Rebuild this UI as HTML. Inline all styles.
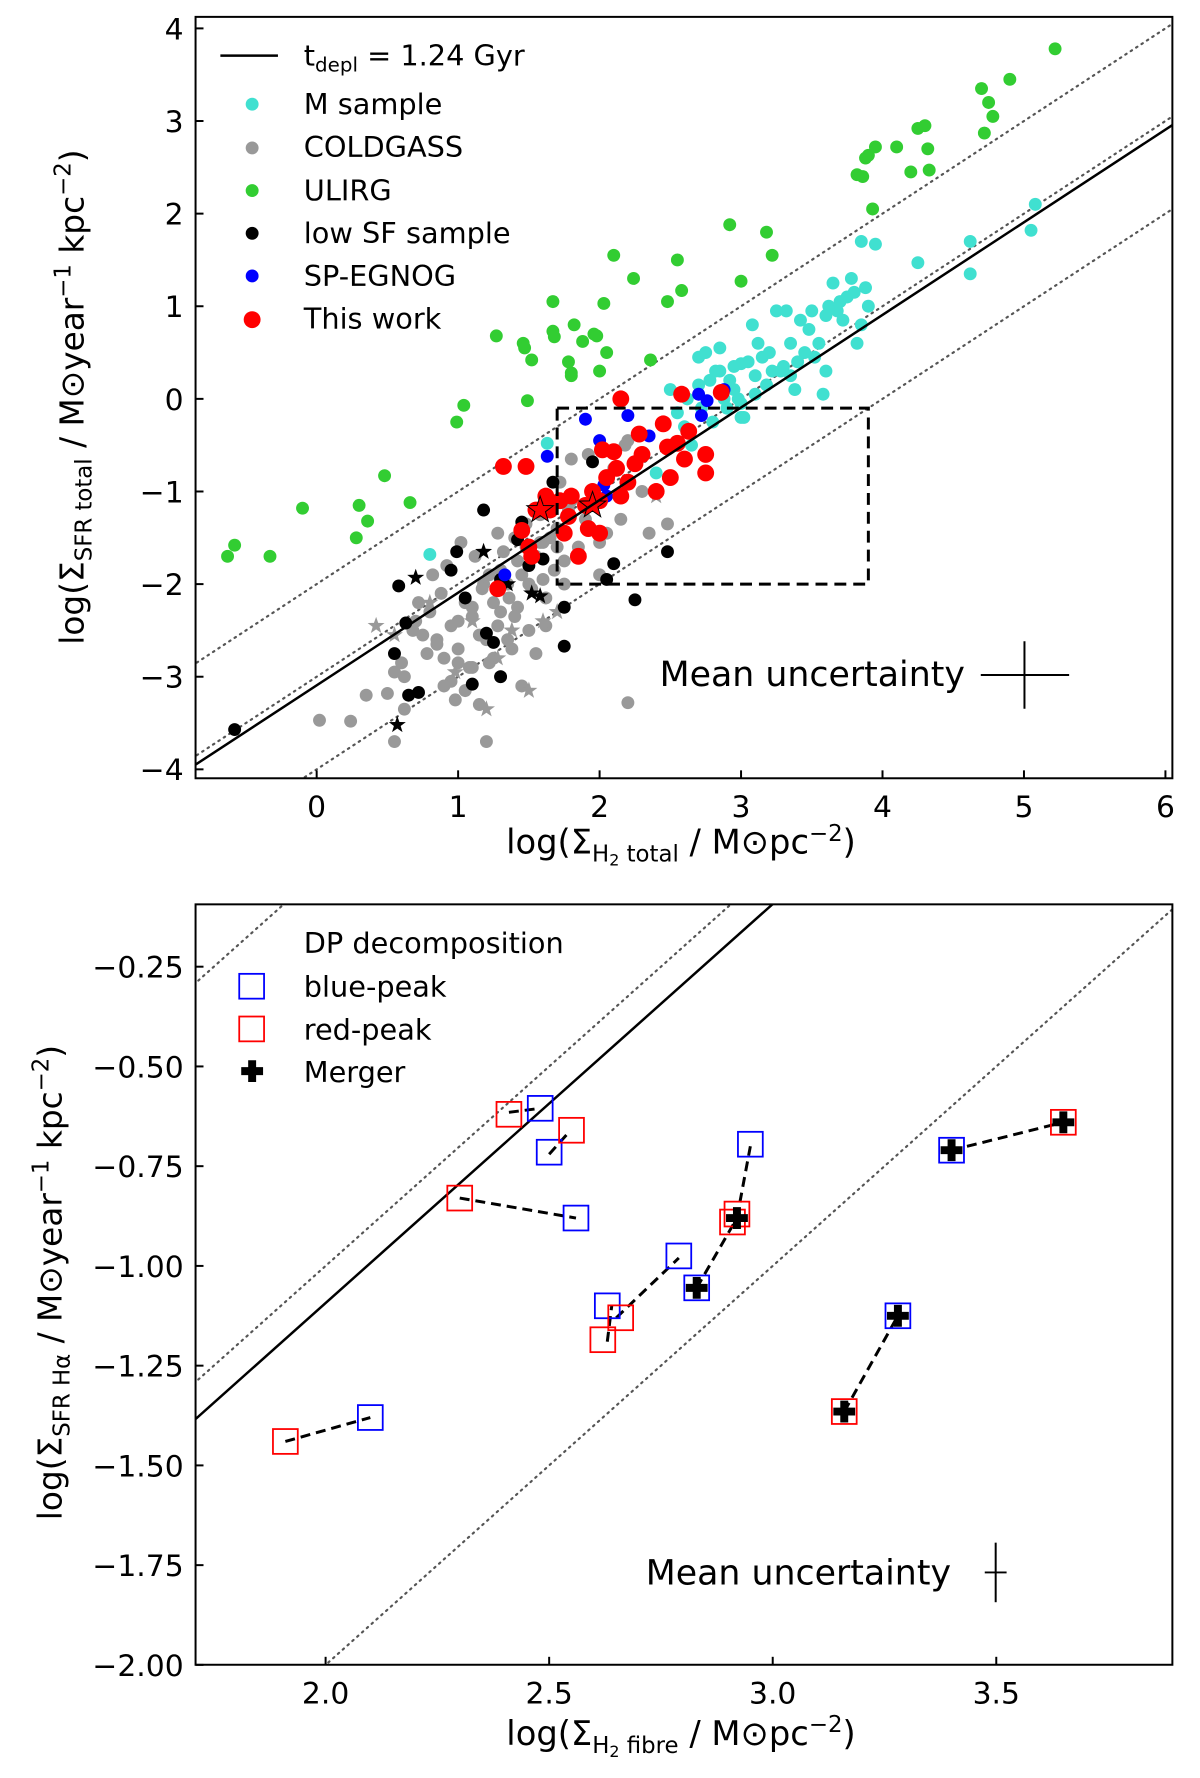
<!DOCTYPE html>
<html><head><meta charset="utf-8">
<style>
html,body{margin:0;padding:0;background:#fff;overflow:hidden;}
svg{display:block;font-family:"DejaVu Sans","Liberation Sans",sans-serif;}
</style></head>
<body>
<svg id="fig" width="1200" height="1778" viewBox="0 0 1200 1778" xmlns="http://www.w3.org/2000/svg">
<rect width="1200" height="1778" fill="#fff"/>
<defs><clipPath id="ct"><rect x="197" y="17" width="984" height="767"/></clipPath><clipPath id="cb"><rect x="197" y="911" width="984" height="766"/></clipPath></defs>
<g transform="scale(0.9927)">
<g id="topPanel">
<text x="686" y="860" font-size="34" text-anchor="middle">log(Σ<tspan font-size="23" dy="8">H</tspan><tspan font-size="16" dy="4">2</tspan><tspan font-size="23" dy="-4"> total</tspan><tspan dy="-8"> / M⊙pc</tspan><tspan font-size="23" dy="-13">−2</tspan><tspan dy="13">)</tspan></text>
<text transform="translate(84,400) rotate(-90)" font-size="33" text-anchor="middle">log(Σ<tspan font-size="23" dy="8">SFR total</tspan><tspan dy="-8"> / M⊙year</tspan><tspan font-size="23" dy="-13">−1</tspan><tspan dy="13"> kpc</tspan><tspan font-size="23" dy="-13">−2</tspan><tspan dy="13">)</tspan></text>
<g font-size="29">
<line x1="222" y1="56" x2="280" y2="56" stroke="#000" stroke-width="2.5"/>
<text x="306" y="66">t<tspan font-size="20" dy="6">depl</tspan><tspan dy="-6"> = 1.24 Gyr</tspan></text>
<circle cx="254" cy="105" r="6.5" fill="#40e0d0"/><text x="306" y="115">M sample</text>
<circle cx="254" cy="149" r="6.5" fill="#999"/><text x="306" y="158">COLDGASS</text>
<circle cx="254" cy="192" r="6.5" fill="#32cd32"/><text x="306" y="202">ULIRG</text>
<circle cx="254" cy="235" r="6.5" fill="#000"/><text x="306" y="245">low SF sample</text>
<circle cx="254" cy="278" r="6.5" fill="#0000ff"/><text x="306" y="288">SP-EGNOG</text>
<circle cx="254" cy="322" r="8.5" fill="#ff0000"/><text x="306" y="331">This work</text>
</g>
<g>
<text x="972" y="691" font-size="35" text-anchor="end">Mean uncertainty</text>
<line x1="988" y1="680" x2="1077" y2="680" stroke="#000" stroke-width="2"/>
<line x1="1032" y1="646" x2="1032" y2="714" stroke="#000" stroke-width="2"/>
</g>
</g>
<g id="botPanel">
<text x="686" y="1758" font-size="34" text-anchor="middle">log(Σ<tspan font-size="23" dy="8">H</tspan><tspan font-size="16" dy="4">2</tspan><tspan font-size="23" dy="-4"> fibre</tspan><tspan dy="-8"> / M⊙pc</tspan><tspan font-size="23" dy="-13">−2</tspan><tspan dy="13">)</tspan></text>
<text transform="translate(62,1292) rotate(-90)" font-size="33" text-anchor="middle">log(Σ<tspan font-size="23" dy="8">SFR Hα</tspan><tspan dy="-8"> / M⊙year</tspan><tspan font-size="23" dy="-13">−1</tspan><tspan dy="13"> kpc</tspan><tspan font-size="23" dy="-13">−2</tspan><tspan dy="13">)</tspan></text>
<g font-size="29">
<text x="306" y="960">DP decomposition</text>
<rect x="241" y="981" width="25" height="25" fill="none" stroke="#0000ff" stroke-width="1.8"/><text x="306" y="1004">blue-peak</text>
<rect x="241" y="1024" width="25" height="25" fill="none" stroke="#ff0000" stroke-width="1.8"/><text x="306" y="1047">red-peak</text>
<path d="M250,1068h8v7h7v8h-7v7h-8v-7h-7v-8h7z" fill="#000"/><text x="306" y="1090">Merger</text>
</g>
<g>
<text x="958" y="1596" font-size="35" text-anchor="end">Mean uncertainty</text>
<line x1="992" y1="1584" x2="1014" y2="1584" stroke="#000" stroke-width="2"/>
<line x1="1003" y1="1554" x2="1003" y2="1614" stroke="#000" stroke-width="2"/>
</g>
</g>
</g>
</svg>
<script>
// ---------- TOP PANEL DATA ----------
const ulirgX=[-0.63,-0.58,-0.33,-0.1,0.28,0.3,0.36,0.48,0.66,0.99,1.04,1.27,1.46,1.47,1.52,1.49,1.67,1.67,1.68,1.78,1.8,1.8,1.82,1.88,1.96,1.98,2.0,2.03,2.05,2.1,2.24,2.36,2.48,2.55,2.58,2.92,3.0,3.18,3.22,3.93,3.82,3.88,3.9,3.95,4.1,3.86,4.2,4.25,4.3,4.32,4.33,4.7,4.72,4.75,4.78,4.9,5.22];
const ulirgY=[-1.7,-1.58,-1.7,-1.18,-1.5,-1.15,-1.32,-0.83,-1.12,-0.25,-0.07,0.68,0.6,0.55,0.42,-0.02,1.05,0.73,0.67,0.4,0.28,0.25,0.8,0.62,0.7,0.68,0.3,1.03,0.5,1.55,1.3,0.42,1.05,1.5,1.17,1.88,1.27,1.8,1.55,2.05,2.42,2.6,2.63,2.72,2.72,2.4,2.45,2.92,2.95,2.7,2.47,3.35,2.87,3.2,3.05,3.45,3.78];
const msX=[0.8,1.63,2.4,2.5,2.55,2.6,2.62,2.65,2.7,2.72,2.75,2.78,2.8,2.82,2.85,2.88,2.9,2.92,2.95,2.98,3.0,3.02,3.05,3.08,3.1,3.12,3.15,3.18,3.2,3.22,3.25,3.28,3.3,3.32,3.35,3.38,3.4,3.42,3.45,3.48,3.5,3.52,3.55,3.58,3.6,3.62,3.65,3.68,3.7,3.72,3.75,3.78,3.8,3.82,3.85,3.88,3.9,3.95,3.85,4.25,4.62,4.62,5.05,5.08,3.0,2.95,3.1,2.7,3.6,3.35,2.85,3.0];
const msY=[-1.68,-0.48,-0.8,0.1,-0.15,-0.3,0.0,-0.5,0.45,-0.1,0.5,0.2,-0.25,0.3,0.55,0.0,-0.1,0.2,0.35,0.0,0.38,-0.2,0.4,0.8,0.25,0.6,0.45,0.15,0.5,0.3,0.95,0.3,0.35,0.95,0.6,0.1,0.4,0.85,0.5,0.75,0.95,0.45,0.6,0.05,0.3,1.0,1.25,0.95,1.05,0.85,1.1,1.3,1.15,0.6,0.8,1.2,1.0,1.67,1.7,1.47,1.7,1.35,1.82,2.1,-0.05,0.1,0.05,0.15,0.9,0.25,0.3,-0.2];
const cgX=[0.02,0.24,0.35,0.5,0.55,0.6,0.62,0.68,0.72,0.75,0.8,0.82,0.85,0.88,0.9,0.92,0.95,0.98,1.0,1.02,1.05,1.08,1.1,1.12,1.15,1.18,1.2,1.22,1.25,1.28,1.3,1.32,1.35,1.38,1.4,1.42,1.45,1.48,1.5,1.52,1.55,1.58,1.6,1.62,1.65,1.68,1.7,1.72,1.75,1.78,1.8,1.85,1.9,1.95,2.0,2.05,2.1,2.15,2.2,2.3,2.35,2.2,0.95,1.0,1.05,1.1,1.15,1.2,1.25,1.3,1.35,1.4,1.45,1.5,1.55,1.6,0.85,0.9,0.7,0.78,1.17,1.22,1.3,1.42,1.48,1.58,1.62,1.7,1.75,1.8,2.0,2.18,2.48,1.92,0.55,0.62,1.0,1.1,1.28,1.36];
const cgY=[-3.47,-3.48,-3.2,-3.18,-3.7,-2.85,-3.0,-2.5,-2.2,-2.55,-2.3,-1.9,-2.6,-2.1,-2.8,-1.8,-2.45,-3.25,-2.7,-1.55,-2.2,-2.9,-2.35,-1.7,-3.3,-2.0,-2.6,-1.9,-2.8,-1.45,-2.3,-1.65,-2.0,-2.7,-1.5,-2.25,-1.9,-1.6,-2.5,-2.05,-1.7,-1.25,-1.95,-2.45,-1.5,-1.85,-1.4,-0.9,-1.75,-1.2,-0.65,-1.6,-1.3,-1.0,-1.9,-1.45,-0.75,-1.3,-0.45,-1.0,-1.45,-3.28,-3.05,-2.4,-3.15,-2.9,-2.55,-3.7,-2.2,-3.0,-2.6,-2.35,-3.1,-2.0,-2.75,-1.55,-2.65,-3.1,-2.4,-2.75,-2.05,-2.85,-1.85,-1.75,-1.35,-1.55,-2.15,-1.6,-2.0,-1.1,-1.55,-0.5,-1.35,-0.6,-2.95,-3.35,-2.85,-2.25,-2.45,-2.15];
const lowX=[-0.58,0.55,0.58,0.63,0.65,0.72,0.95,0.99,1.05,1.1,1.18,1.2,1.25,1.3,1.3,1.45,1.5,1.6,1.67,1.75,1.75,1.95,2.05,2.1,2.25,2.48,1.42];
const lowY=[-3.57,-2.75,-2.02,-2.42,-3.2,-3.17,-1.85,-1.65,-2.15,-3.08,-1.2,-2.53,-2.63,-3.0,-1.95,-1.33,-1.8,-1.73,-0.9,-2.25,-2.67,-0.68,-1.95,-1.78,-2.17,-1.65,-1.52];
const lowStarX=[0.7,1.18,1.52,1.58,0.57,1.35];
const lowStarY=[-1.93,-1.65,-2.1,-2.13,-3.52,-2.0];
const cgStarX=[0.42,0.55,0.8,1.1,1.2,1.38,1.5,1.6,1.7,1.85,2.4,1.28,0.98];
const cgStarY=[-2.45,-2.55,-2.2,-2.4,-3.35,-2.5,-3.15,-2.4,-2.3,-1.7,-1.05,-2.8,-2.95];
const egX=[1.33,1.63,1.9,2.0,2.2,2.05,2.03,2.7,2.76,2.72,2.88,2.35];
const egY=[-1.9,-0.62,-0.22,-0.45,-0.18,-1.05,-0.93,0.05,-0.02,-0.18,0.1,-0.4];
const twX=[1.32,1.48,1.28,1.45,1.5,1.52,1.55,1.62,1.65,1.72,1.75,1.78,1.8,1.85,1.9,1.92,1.95,2.0,2.0,2.02,2.05,2.1,2.12,2.15,2.15,2.2,2.25,2.28,2.3,2.4,2.45,2.5,2.55,2.58,2.6,2.63,2.75,2.75,2.86,2.48];
const twY=[-0.73,-0.73,-2.05,-1.42,-1.6,-1.7,-1.2,-1.05,-1.2,-1.1,-1.45,-1.27,-1.05,-1.7,-1.15,-1.4,-1.0,-1.45,-1.1,-0.55,-0.85,-0.57,-0.75,-1.05,0.0,-0.9,-0.7,-0.38,-0.6,-1.0,-0.27,-0.85,-0.48,0.05,-0.65,-0.35,-0.6,-0.8,0.07,-0.52];
const twStarX=[1.58,1.95];
const twStarY=[-1.2,-1.15];
const xTicksTop=[0,1,2,3,4,5,6];
const yTicksTop=[-4,-3,-2,-1,0,1,2,3,4];

// ---------- BOTTOM PANEL DATA ----------
const blueX=[2.1,2.56,2.48,2.5,2.95,2.63,2.79,2.83,3.28,3.4];
const blueY=[-1.38,-0.88,-0.605,-0.715,-0.695,-1.1,-0.975,-1.055,-1.125,-0.71];
const redX=[1.91,2.3,2.41,2.55,2.92,2.91,2.62,2.66,3.16,3.65];
const redY=[-1.44,-0.83,-0.62,-0.66,-0.87,-0.89,-1.185,-1.13,-1.365,-0.64];
const mergX=[2.83,2.92,3.28,3.16,3.4,3.65];
const mergY=[-1.055,-0.88,-1.125,-1.365,-0.71,-0.64];
const linkX1=[1.91,2.3,2.41,2.5,2.63,2.65,2.83,2.92,3.16,3.4];
const linkY1=[-1.44,-0.83,-0.615,-0.72,-1.19,-1.13,-1.055,-0.88,-1.365,-0.71];
const linkX2=[2.1,2.56,2.48,2.54,2.64,2.79,2.92,2.95,3.28,3.65];
const linkY2=[-1.38,-0.88,-0.605,-0.67,-1.1,-0.98,-0.88,-0.7,-1.125,-0.64];
const xTicksBot=[2.0,2.5,3.0,3.5];
const yTicksBot=[-2.0,-1.75,-1.5,-1.25,-1.0,-0.75,-0.5,-0.25];

(function(){
const NS="http://www.w3.org/2000/svg";
function mk(parent,tag,attrs,text){const e=document.createElementNS(NS,tag);for(const k in attrs)e.setAttribute(k,attrs[k]);if(text!==undefined)e.textContent=text;parent.appendChild(e);return e;}
const TL=197,TR=1181,TT=17,TB=784;
const tx=x=>319+x*142.5, ty=y=>28.6+(4-y)*93.3;
const BL=197,BR=1181,BT=911,BB=1677;
const bx=x=>328+(x-2)*450.4, by=y=>973.8+(-0.25-y)*401.9;
function starPath(cx,cy,r){let d="";for(let i=0;i<10;i++){const a=-Math.PI/2+i*Math.PI/5;const rr=i%2?r*0.4:r;d+=(i?"L":"M")+(cx+rr*Math.cos(a)).toFixed(1)+","+(cy+rr*Math.sin(a)).toFixed(1);}return d+"Z";}
function relLine(g,fx,fy,off,x0,x1,style,name){
  const el=mk(g,'line',Object.assign({x1:fx(x0),y1:fy(x0+off),x2:fx(x1),y2:fy(x1+off)},style));
  
  
}
const dot={stroke:'#555','stroke-width':2.2,'stroke-dasharray':'1.5,5','stroke-linecap':'round'};

const topG=document.getElementById('topPanel');
const tg=mk(topG,'g',{'clip-path':'url(#ct)'});
relLine(tg,tx,ty,-2,-1,6.2,dot,'upper-dotted-line');
relLine(tg,tx,ty,-3,-1,6.2,dot,'middle-dotted-line');
relLine(tg,tx,ty,-4,-1,6.2,dot,'lower-dotted-line');
function pts(g,X,Y,fill,r,name){for(let i=0;i<X.length;i++){const c=mk(g,'circle',{cx:tx(X[i]),cy:ty(Y[i]),r:r,fill:fill});
  
  }}
function stars(g,X,Y,fill,stroke,r,name){for(let i=0;i<X.length;i++){const p=mk(g,'path',{d:starPath(tx(X[i]),ty(Y[i]),r),fill:fill,stroke:stroke,'stroke-width':1});
  
  }}
pts(tg,ulirgX,ulirgY,'#32cd32',6.5,'ulirg-point');
pts(tg,cgX,cgY,'#999',6.5,'coldgass-point');
stars(tg,cgStarX,cgStarY,'#999','none',9,'coldgass-star');
pts(tg,msX,msY,'#40e0d0',6.5,'m-sample-point');
pts(tg,lowX,lowY,'#000',6.5,'low-sf-point');
stars(tg,lowStarX,lowStarY,'#000','none',9,'low-sf-star');
pts(tg,egX,egY,'#0000ff',6.5,'sp-egnog-point');
pts(tg,twX,twY,'#ff0000',8.5,'this-work-point');
stars(tg,twStarX,twStarY,'#ff0000','#000',14,'this-work-star');
relLine(tg,tx,ty,-3.093,-1,6.2,{stroke:'#000','stroke-width':2.5},'depletion-time-line');
const box=mk(tg,'rect',{x:tx(1.7),y:ty(-0.1),width:tx(3.9)-tx(1.7),height:ty(-2)-ty(-0.1),fill:'none',stroke:'#000','stroke-width':3,'stroke-dasharray':'12,7'});


const tf=mk(topG,'rect',{x:TL,y:TT,width:TR-TL,height:TB-TT,fill:'none',stroke:'#000','stroke-width':2});


xTicksTop.forEach(v=>{const x=tx(v);mk(topG,'line',{x1:x,y1:TB,x2:x,y2:TB-8,stroke:'#000','stroke-width':2});
  const t=mk(topG,'text',{x:x,y:TB+39,'font-size':30,'text-anchor':'middle'},String(v));
  
  });
yTicksTop.forEach(v=>{const y=ty(v);mk(topG,'line',{x1:TL,y1:y,x2:TL+8,y2:y,stroke:'#000','stroke-width':2});
  const t=mk(topG,'text',{x:TL-12,y:y+11,'font-size':30,'text-anchor':'end'},String(v).replace('-','\u2212'));
  
  });

const botG=document.getElementById('botPanel');
const bg=mk(botG,'g',{'clip-path':'url(#cb)'});
relLine(bg,bx,by,-2,1.5,4,dot,'upper-dotted-line');
relLine(bg,bx,by,-3,1.5,4,dot,'middle-dotted-line');
relLine(bg,bx,by,-4,1.5,4,dot,'lower-dotted-line');
relLine(bg,bx,by,-3.093,1.5,4,{stroke:'#000','stroke-width':2.5},'depletion-time-line');
for(let i=0;i<linkX1.length;i++){
  const l=mk(bg,'line',{x1:bx(linkX1[i]),y1:by(linkY1[i]),x2:bx(linkX2[i]),y2:by(linkY2[i]),stroke:'#000','stroke-width':3,'stroke-dasharray':'10,6'});
  
  
}
function sq(X,Y,col,name){for(let i=0;i<X.length;i++){const s=mk(bg,'rect',{x:bx(X[i])-12.5,y:by(Y[i])-12.5,width:25,height:25,fill:'none',stroke:col,'stroke-width':1.8});
  
  }}
sq(blueX,blueY,'#0000ff','blue-peak-square');
sq(redX,redY,'#ff0000','red-peak-square');
for(let i=0;i<mergX.length;i++){const cx=bx(mergX[i]),cy=by(mergY[i]);
  const p=mk(bg,'path',{d:`M${cx-4},${cy-11}h8v7h7v8h-7v7h-8v-7h-7v-8h7z`,fill:'#000'});
  
  }
const bf=mk(botG,'rect',{x:BL,y:BT,width:BR-BL,height:BB-BT,fill:'none',stroke:'#000','stroke-width':2});


xTicksBot.forEach(v=>{const x=bx(v);mk(botG,'line',{x1:x,y1:BB,x2:x,y2:BB-8,stroke:'#000','stroke-width':2});
  const t=mk(botG,'text',{x:x,y:BB+39,'font-size':30,'text-anchor':'middle'},v.toFixed(1));
  
  });
yTicksBot.forEach(v=>{const y=by(v);mk(botG,'line',{x1:BL,y1:y,x2:BL+8,y2:y,stroke:'#000','stroke-width':2});
  const t=mk(botG,'text',{x:BL-12,y:y+11,'font-size':30,'text-anchor':'end'},v.toFixed(2).replace('-','\u2212'));
  
  });
})();
</script>
</body></html>
